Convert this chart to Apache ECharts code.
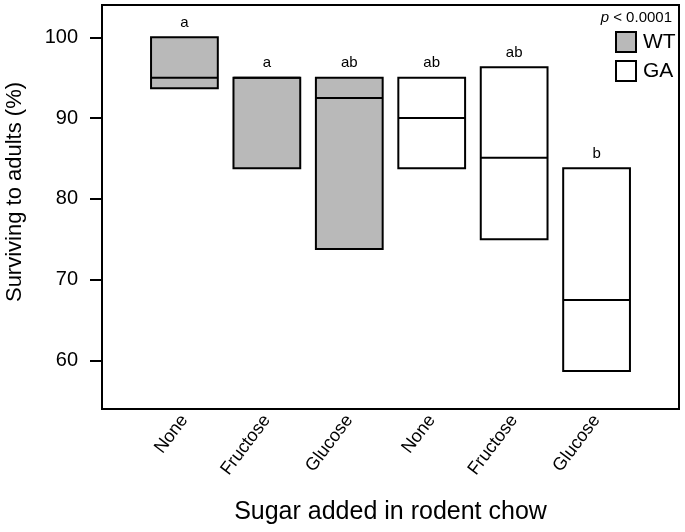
<!DOCTYPE html>
<html><head><meta charset="utf-8">
<script src="https://cdn.jsdelivr.net/npm/echarts@6/dist/echarts.min.js"></script>
<style>html,body{margin:0;padding:0;background:#fff}#c{width:685px;height:532px}</style>
</head><body><div id="c"></div>
<script>
const axisCategories = ['', 'None', 'Fructose', 'Glucose', 'None', 'Fructose', 'Glucose', ''];
const groups  = ['WT', 'WT', 'WT', 'GA', 'GA', 'GA'];
const lows    = [93.7, 83.8, 73.8, 83.8, 75.0, 58.7];
const medians = [95.0, 95.0, 92.5, 90.0, 85.1, 67.5];
const highs   = [100.0, 95.0, 95.0, 95.0, 96.3, 83.8];
const letters = ['a', 'a', 'ab', 'ab', 'ab', 'b'];
const yTicks  = [60, 70, 80, 90, 100];
const groupNames = ['WT', 'GA'];
const groupFill = {WT: '#b9b9b9', GA: '#ffffff'};

const FONT = '"Liberation Sans", Arial, sans-serif';

function makeData(g) {
  const out = [];
  for (let i = 0; i < groups.length; i++) {
    if (groups[i] === g) out.push([i + 1, lows[i], medians[i], highs[i]]);
  }
  return out;
}

function renderBox(params, api) {
  const xi = api.value(0);
  const lo = api.coord([xi, api.value(1)]);
  const md = api.coord([xi, api.value(2)]);
  const hi = api.coord([xi, api.value(3)]);
  const w = api.size([1, 0])[0] * 0.81;
  const cx = lo[0];
  const fill = groupFill[groups[xi - 1]];
  return {
    type: 'group',
    children: [
      {type: 'rect', shape: {x: cx - w / 2, y: hi[1], width: w, height: lo[1] - hi[1]},
       style: {fill: fill, stroke: '#000', lineWidth: 2}},
      {type: 'line', shape: {x1: cx - w / 2, y1: md[1], x2: cx + w / 2, y2: md[1]},
       style: {stroke: '#000', lineWidth: 2}},
      {type: 'text', style: {text: letters[xi - 1], x: cx, y: hi[1] - 7,
        textAlign: 'center', textVerticalAlign: 'bottom',
        font: '15px ' + FONT, fill: '#000'}}
    ]
  };
}

const chart = echarts.init(document.getElementById('c'), null, {renderer: 'canvas'});
chart.setOption({
  animation: false,
  backgroundColor: '#fff',
  grid: {left: 102, right: 6, top: 5, bottom: 123, show: true, borderColor: '#000', borderWidth: 2, backgroundColor: 'transparent'},
  xAxis: {
    type: 'category', data: axisCategories, boundaryGap: false,
    axisLine: {show: false}, axisTick: {show: false}, splitLine: {show: false},
    axisLabel: {interval: 0, rotate: 53, margin: 8, fontSize: 18, fontFamily: FONT, color: '#000'},
    name: 'Sugar added in rodent chow', nameLocation: 'middle', nameGap: 91,
    nameTextStyle: {fontSize: 25, fontFamily: FONT, color: '#000'}
  },
  yAxis: {
    type: 'value', min: 54, max: 104,
    splitLine: {show: false},
    axisLine: {show: true, lineStyle: {color: '#000', width: 2}},
    axisTick: {show: true, customValues: yTicks, length: 12, lineStyle: {color: '#000', width: 2}},
    axisLabel: {customValues: yTicks, margin: 24, fontSize: 20, fontFamily: FONT, color: '#000'}
  },
  legend: {
    data: [
      {name: 'WT', itemStyle: {color: groupFill.WT, borderColor: '#000', borderWidth: 2}},
      {name: 'GA', itemStyle: {color: groupFill.GA, borderColor: '#000', borderWidth: 2}}
    ],
    icon: 'rect', orient: 'vertical', left: 615, top: 31, padding: 0,
    itemWidth: 20, itemHeight: 20, itemGap: 7, selectedMode: false,
    textStyle: {fontSize: 21, fontFamily: FONT, color: '#000', lineHeight: 20, padding: [0, 0, 0, 2]}
  },
  graphic: [
    {type: 'text', right: 13, top: 10,
     style: {text: '{i|p} < 0.0001', fill: '#000', font: '15px ' + FONT,
       rich: {i: {fontStyle: 'italic', fontSize: 15, fontFamily: FONT}}}},
    {type: 'text', x: 15, y: 192, rotation: Math.PI / 2,
     style: {text: 'Surviving to adults (%)', fill: '#000', font: '22px ' + FONT,
       textAlign: 'center', textVerticalAlign: 'middle'}}
  ],
  series: groupNames.map(g => ({
    name: g, type: 'custom', renderItem: renderBox,
    itemStyle: {color: groupFill[g], borderColor: '#000'},
    encode: {x: 0, y: [1, 2, 3]},
    data: makeData(g)
  }))
});
</script></body></html>
